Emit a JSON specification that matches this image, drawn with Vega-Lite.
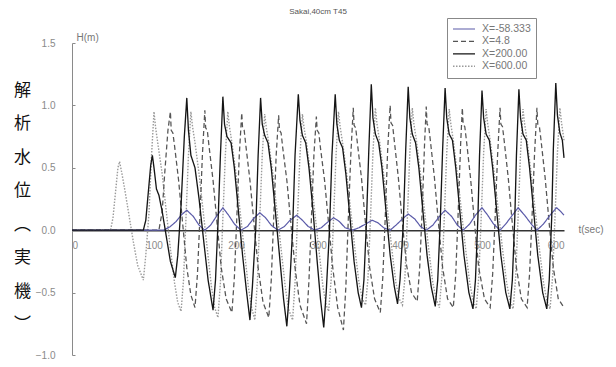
{
  "$schema": "https://vega.github.io/schema/vega-lite/v6.json",
  "autosize": "none",
  "width": 492,
  "height": 312,
  "padding": {"left": 72, "top": 43, "right": 52, "bottom": 12},
  "background": "white",
  "title": {"text": "Sakai,40cm T45", "fontSize": 8, "fontWeight": "normal", "color": "#555555", "font": "Liberation Sans", "anchor": "middle", "baseline": "bottom", "offset": 4, "dy": 10},
  "data": {"values": [
    {"s":"X=200.00","t":0,"h":0},{"s":"X=200.00","t":87,"h":0},{"s":"X=200.00","t":90,"h":0.08},{"s":"X=200.00","t":93,"h":0.3},{"s":"X=200.00","t":96,"h":0.52},{"s":"X=200.00","t":98,"h":0.6},{"s":"X=200.00","t":100,"h":0.5},{"s":"X=200.00","t":103,"h":0.33},{"s":"X=200.00","t":106,"h":0.28},{"s":"X=200.00","t":110,"h":0.15},{"s":"X=200.00","t":115,"h":-0.05},{"s":"X=200.00","t":120,"h":-0.25},{"s":"X=200.00","t":126,"h":-0.38},
    {"s":"X=200.00","t":129,"h":-0.2},{"s":"X=200.00","t":133,"h":0.2},{"s":"X=200.00","t":137,"h":0.75},{"s":"X=200.00","t":140,"h":1.06},{"s":"X=200.00","t":142,"h":0.8},{"s":"X=200.00","t":145,"h":0.6},{"s":"X=200.00","t":150,"h":0.5},{"s":"X=200.00","t":155,"h":0.25},{"s":"X=200.00","t":160,"h":-0.05},{"s":"X=200.00","t":166,"h":-0.4},{"s":"X=200.00","t":172,"h":-0.64},
    {"s":"X=200.00","t":175,"h":-0.4},{"s":"X=200.00","t":178,"h":0.05},{"s":"X=200.00","t":181,"h":0.6},{"s":"X=200.00","t":184,"h":1.07},{"s":"X=200.00","t":186,"h":0.85},{"s":"X=200.00","t":189,"h":0.75},{"s":"X=200.00","t":194,"h":0.7},{"s":"X=200.00","t":198,"h":0.5},{"s":"X=200.00","t":203,"h":0.15},{"s":"X=200.00","t":208,"h":-0.2},{"s":"X=200.00","t":213,"h":-0.5},{"s":"X=200.00","t":217,"h":-0.72},
    {"s":"X=200.00","t":220,"h":-0.45},{"s":"X=200.00","t":224,"h":0.0},{"s":"X=200.00","t":227,"h":0.6},{"s":"X=200.00","t":230,"h":1.06},{"s":"X=200.00","t":232,"h":0.85},{"s":"X=200.00","t":235,"h":0.76},{"s":"X=200.00","t":239,"h":0.7},{"s":"X=200.00","t":243,"h":0.5},{"s":"X=200.00","t":248,"h":0.15},{"s":"X=200.00","t":253,"h":-0.2},{"s":"X=200.00","t":258,"h":-0.55},{"s":"X=200.00","t":262,"h":-0.77},
    {"s":"X=200.00","t":265,"h":-0.5},{"s":"X=200.00","t":269,"h":0.0},{"s":"X=200.00","t":272,"h":0.6},{"s":"X=200.00","t":276,"h":1.09},{"s":"X=200.00","t":278,"h":0.88},{"s":"X=200.00","t":281,"h":0.76},{"s":"X=200.00","t":285,"h":0.7},{"s":"X=200.00","t":289,"h":0.5},{"s":"X=200.00","t":294,"h":0.15},{"s":"X=200.00","t":299,"h":-0.25},{"s":"X=200.00","t":303,"h":-0.55},{"s":"X=200.00","t":307,"h":-0.78},
    {"s":"X=200.00","t":310,"h":-0.5},{"s":"X=200.00","t":314,"h":0.0},{"s":"X=200.00","t":317,"h":0.6},{"s":"X=200.00","t":321,"h":1.09},{"s":"X=200.00","t":323,"h":0.85},{"s":"X=200.00","t":326,"h":0.72},{"s":"X=200.00","t":330,"h":0.66},{"s":"X=200.00","t":334,"h":0.45},{"s":"X=200.00","t":339,"h":0.1},{"s":"X=200.00","t":344,"h":-0.25},{"s":"X=200.00","t":349,"h":-0.5},{"s":"X=200.00","t":353,"h":-0.62},
    {"s":"X=200.00","t":356,"h":-0.4},{"s":"X=200.00","t":359,"h":0.05},{"s":"X=200.00","t":362,"h":0.65},{"s":"X=200.00","t":365,"h":1.17},{"s":"X=200.00","t":367,"h":0.9},{"s":"X=200.00","t":370,"h":0.77},{"s":"X=200.00","t":374,"h":0.7},{"s":"X=200.00","t":378,"h":0.5},{"s":"X=200.00","t":383,"h":0.15},{"s":"X=200.00","t":388,"h":-0.2},{"s":"X=200.00","t":393,"h":-0.45},{"s":"X=200.00","t":397,"h":-0.59},
    {"s":"X=200.00","t":400,"h":-0.4},{"s":"X=200.00","t":404,"h":0.05},{"s":"X=200.00","t":407,"h":0.65},{"s":"X=200.00","t":410,"h":1.15},{"s":"X=200.00","t":412,"h":0.9},{"s":"X=200.00","t":415,"h":0.77},{"s":"X=200.00","t":419,"h":0.7},{"s":"X=200.00","t":423,"h":0.5},{"s":"X=200.00","t":428,"h":0.15},{"s":"X=200.00","t":433,"h":-0.2},{"s":"X=200.00","t":438,"h":-0.45},{"s":"X=200.00","t":443,"h":-0.61},
    {"s":"X=200.00","t":446,"h":-0.4},{"s":"X=200.00","t":449,"h":0.05},{"s":"X=200.00","t":452,"h":0.65},{"s":"X=200.00","t":455,"h":1.14},{"s":"X=200.00","t":457,"h":0.9},{"s":"X=200.00","t":460,"h":0.77},{"s":"X=200.00","t":464,"h":0.72},{"s":"X=200.00","t":468,"h":0.5},{"s":"X=200.00","t":473,"h":0.15},{"s":"X=200.00","t":478,"h":-0.2},{"s":"X=200.00","t":484,"h":-0.5},{"s":"X=200.00","t":489,"h":-0.63},
    {"s":"X=200.00","t":492,"h":-0.4},{"s":"X=200.00","t":495,"h":0.1},{"s":"X=200.00","t":497,"h":0.6},{"s":"X=200.00","t":500,"h":1.12},{"s":"X=200.00","t":502,"h":0.9},{"s":"X=200.00","t":505,"h":0.77},{"s":"X=200.00","t":509,"h":0.72},{"s":"X=200.00","t":513,"h":0.5},{"s":"X=200.00","t":518,"h":0.15},{"s":"X=200.00","t":523,"h":-0.2},{"s":"X=200.00","t":529,"h":-0.5},{"s":"X=200.00","t":534,"h":-0.63},
    {"s":"X=200.00","t":537,"h":-0.4},{"s":"X=200.00","t":540,"h":0.1},{"s":"X=200.00","t":542,"h":0.6},{"s":"X=200.00","t":545,"h":1.13},{"s":"X=200.00","t":547,"h":0.9},{"s":"X=200.00","t":550,"h":0.77},{"s":"X=200.00","t":554,"h":0.72},{"s":"X=200.00","t":558,"h":0.5},{"s":"X=200.00","t":563,"h":0.15},{"s":"X=200.00","t":568,"h":-0.2},{"s":"X=200.00","t":574,"h":-0.5},{"s":"X=200.00","t":579,"h":-0.63},
    {"s":"X=200.00","t":582,"h":-0.4},{"s":"X=200.00","t":585,"h":0.1},{"s":"X=200.00","t":587,"h":0.65},{"s":"X=200.00","t":590,"h":1.18},{"s":"X=200.00","t":592,"h":0.92},{"s":"X=200.00","t":595,"h":0.78},{"s":"X=200.00","t":598,"h":0.72},{"s":"X=200.00","t":600,"h":0.58},

    {"s":"X=4.8","t":0,"h":0},{"s":"X=4.8","t":106,"h":0},{"s":"X=4.8","t":110,"h":0.15},{"s":"X=4.8","t":113,"h":0.45},{"s":"X=4.8","t":117,"h":0.8},{"s":"X=4.8","t":120,"h":0.95},{"s":"X=4.8","t":121,"h":0.8},{"s":"X=4.8","t":123,"h":0.78},{"s":"X=4.8","t":125,"h":0.68},{"s":"X=4.8","t":130,"h":0.4},{"s":"X=4.8","t":135,"h":0.05},{"s":"X=4.8","t":140,"h":-0.3},{"s":"X=4.8","t":145,"h":-0.52},{"s":"X=4.8","t":150,"h":-0.62},
    {"s":"X=4.8","t":153,"h":-0.35},{"s":"X=4.8","t":156,"h":0.1},{"s":"X=4.8","t":159,"h":0.6},{"s":"X=4.8","t":162,"h":0.96},{"s":"X=4.8","t":163,"h":0.82},{"s":"X=4.8","t":165,"h":0.8},{"s":"X=4.8","t":167,"h":0.68},{"s":"X=4.8","t":172,"h":0.4},{"s":"X=4.8","t":177,"h":0.05},{"s":"X=4.8","t":182,"h":-0.3},{"s":"X=4.8","t":188,"h":-0.55},{"s":"X=4.8","t":195,"h":-0.66},
    {"s":"X=4.8","t":198,"h":-0.38},{"s":"X=4.8","t":201,"h":0.1},{"s":"X=4.8","t":204,"h":0.6},{"s":"X=4.8","t":207,"h":0.94},{"s":"X=4.8","t":208,"h":0.82},{"s":"X=4.8","t":210,"h":0.8},{"s":"X=4.8","t":212,"h":0.68},{"s":"X=4.8","t":217,"h":0.4},{"s":"X=4.8","t":222,"h":0.05},{"s":"X=4.8","t":227,"h":-0.3},{"s":"X=4.8","t":233,"h":-0.58},{"s":"X=4.8","t":240,"h":-0.7},
    {"s":"X=4.8","t":243,"h":-0.4},{"s":"X=4.8","t":246,"h":0.1},{"s":"X=4.8","t":249,"h":0.6},{"s":"X=4.8","t":252,"h":0.92},{"s":"X=4.8","t":253,"h":0.8},{"s":"X=4.8","t":255,"h":0.78},{"s":"X=4.8","t":257,"h":0.66},{"s":"X=4.8","t":262,"h":0.4},{"s":"X=4.8","t":267,"h":0.05},{"s":"X=4.8","t":272,"h":-0.3},{"s":"X=4.8","t":278,"h":-0.6},{"s":"X=4.8","t":286,"h":-0.75},
    {"s":"X=4.8","t":289,"h":-0.4},{"s":"X=4.8","t":292,"h":0.1},{"s":"X=4.8","t":295,"h":0.6},{"s":"X=4.8","t":298,"h":0.91},{"s":"X=4.8","t":299,"h":0.8},{"s":"X=4.8","t":301,"h":0.78},{"s":"X=4.8","t":303,"h":0.66},{"s":"X=4.8","t":308,"h":0.4},{"s":"X=4.8","t":313,"h":0.05},{"s":"X=4.8","t":318,"h":-0.3},{"s":"X=4.8","t":324,"h":-0.62},{"s":"X=4.8","t":331,"h":-0.8},
    {"s":"X=4.8","t":334,"h":-0.45},{"s":"X=4.8","t":337,"h":0.1},{"s":"X=4.8","t":340,"h":0.6},{"s":"X=4.8","t":343,"h":0.98},{"s":"X=4.8","t":344,"h":0.84},{"s":"X=4.8","t":346,"h":0.82},{"s":"X=4.8","t":348,"h":0.7},{"s":"X=4.8","t":353,"h":0.42},{"s":"X=4.8","t":358,"h":0.05},{"s":"X=4.8","t":363,"h":-0.3},{"s":"X=4.8","t":369,"h":-0.55},{"s":"X=4.8","t":376,"h":-0.66},
    {"s":"X=4.8","t":379,"h":-0.38},{"s":"X=4.8","t":382,"h":0.1},{"s":"X=4.8","t":385,"h":0.65},{"s":"X=4.8","t":388,"h":1.0},{"s":"X=4.8","t":389,"h":0.86},{"s":"X=4.8","t":391,"h":0.84},{"s":"X=4.8","t":393,"h":0.72},{"s":"X=4.8","t":398,"h":0.42},{"s":"X=4.8","t":403,"h":0.05},{"s":"X=4.8","t":408,"h":-0.28},{"s":"X=4.8","t":414,"h":-0.5},{"s":"X=4.8","t":421,"h":-0.57},
    {"s":"X=4.8","t":424,"h":-0.3},{"s":"X=4.8","t":427,"h":0.15},{"s":"X=4.8","t":430,"h":0.7},{"s":"X=4.8","t":432,"h":0.99},{"s":"X=4.8","t":433,"h":0.85},{"s":"X=4.8","t":435,"h":0.83},{"s":"X=4.8","t":437,"h":0.72},{"s":"X=4.8","t":442,"h":0.42},{"s":"X=4.8","t":447,"h":0.05},{"s":"X=4.8","t":452,"h":-0.3},{"s":"X=4.8","t":458,"h":-0.55},{"s":"X=4.8","t":465,"h":-0.62},
    {"s":"X=4.8","t":468,"h":-0.35},{"s":"X=4.8","t":471,"h":0.15},{"s":"X=4.8","t":474,"h":0.7},{"s":"X=4.8","t":476,"h":0.98},{"s":"X=4.8","t":477,"h":0.85},{"s":"X=4.8","t":479,"h":0.83},{"s":"X=4.8","t":481,"h":0.72},{"s":"X=4.8","t":486,"h":0.42},{"s":"X=4.8","t":491,"h":0.05},{"s":"X=4.8","t":496,"h":-0.3},{"s":"X=4.8","t":503,"h":-0.55},{"s":"X=4.8","t":510,"h":-0.62},
    {"s":"X=4.8","t":513,"h":-0.35},{"s":"X=4.8","t":516,"h":0.1},{"s":"X=4.8","t":519,"h":0.6},{"s":"X=4.8","t":522,"h":0.98},{"s":"X=4.8","t":523,"h":0.85},{"s":"X=4.8","t":525,"h":0.83},{"s":"X=4.8","t":527,"h":0.72},{"s":"X=4.8","t":532,"h":0.42},{"s":"X=4.8","t":537,"h":0.05},{"s":"X=4.8","t":542,"h":-0.3},{"s":"X=4.8","t":548,"h":-0.55},{"s":"X=4.8","t":555,"h":-0.62},
    {"s":"X=4.8","t":558,"h":-0.35},{"s":"X=4.8","t":561,"h":0.1},{"s":"X=4.8","t":564,"h":0.6},{"s":"X=4.8","t":567,"h":0.98},{"s":"X=4.8","t":568,"h":0.85},{"s":"X=4.8","t":570,"h":0.83},{"s":"X=4.8","t":572,"h":0.72},{"s":"X=4.8","t":577,"h":0.42},{"s":"X=4.8","t":582,"h":0.05},{"s":"X=4.8","t":587,"h":-0.3},{"s":"X=4.8","t":593,"h":-0.55},{"s":"X=4.8","t":600,"h":-0.62},

    {"s":"X=600.00","t":0,"h":0},{"s":"X=600.00","t":47,"h":0},{"s":"X=600.00","t":50,"h":0.1},{"s":"X=600.00","t":53,"h":0.3},{"s":"X=600.00","t":56,"h":0.5},{"s":"X=600.00","t":58,"h":0.55},{"s":"X=600.00","t":61,"h":0.45},{"s":"X=600.00","t":65,"h":0.3},{"s":"X=600.00","t":70,"h":0.1},{"s":"X=600.00","t":75,"h":-0.1},{"s":"X=600.00","t":80,"h":-0.28},{"s":"X=600.00","t":87,"h":-0.4},
    {"s":"X=600.00","t":90,"h":-0.2},{"s":"X=600.00","t":94,"h":0.15},{"s":"X=600.00","t":97,"h":0.6},{"s":"X=600.00","t":100,"h":0.95},{"s":"X=600.00","t":102,"h":0.82},{"s":"X=600.00","t":105,"h":0.68},{"s":"X=600.00","t":110,"h":0.45},{"s":"X=600.00","t":115,"h":0.15},{"s":"X=600.00","t":120,"h":-0.15},{"s":"X=600.00","t":125,"h":-0.42},{"s":"X=600.00","t":129,"h":-0.58},{"s":"X=600.00","t":133,"h":-0.65},
    {"s":"X=600.00","t":136,"h":-0.4},{"s":"X=600.00","t":139,"h":0.1},{"s":"X=600.00","t":142,"h":0.6},{"s":"X=600.00","t":145,"h":0.95},{"s":"X=600.00","t":147,"h":0.83},{"s":"X=600.00","t":150,"h":0.7},{"s":"X=600.00","t":155,"h":0.45},{"s":"X=600.00","t":160,"h":0.15},{"s":"X=600.00","t":165,"h":-0.15},{"s":"X=600.00","t":170,"h":-0.45},{"s":"X=600.00","t":174,"h":-0.62},{"s":"X=600.00","t":178,"h":-0.7},
    {"s":"X=600.00","t":181,"h":-0.42},{"s":"X=600.00","t":184,"h":0.1},{"s":"X=600.00","t":187,"h":0.6},{"s":"X=600.00","t":190,"h":0.95},{"s":"X=600.00","t":192,"h":0.83},{"s":"X=600.00","t":195,"h":0.7},{"s":"X=600.00","t":200,"h":0.45},{"s":"X=600.00","t":205,"h":0.15},{"s":"X=600.00","t":210,"h":-0.15},{"s":"X=600.00","t":215,"h":-0.45},{"s":"X=600.00","t":219,"h":-0.62},{"s":"X=600.00","t":223,"h":-0.72},
    {"s":"X=600.00","t":226,"h":-0.42},{"s":"X=600.00","t":229,"h":0.1},{"s":"X=600.00","t":232,"h":0.6},{"s":"X=600.00","t":235,"h":0.93},{"s":"X=600.00","t":237,"h":0.82},{"s":"X=600.00","t":240,"h":0.7},{"s":"X=600.00","t":245,"h":0.45},{"s":"X=600.00","t":250,"h":0.15},{"s":"X=600.00","t":255,"h":-0.15},{"s":"X=600.00","t":260,"h":-0.45},{"s":"X=600.00","t":264,"h":-0.63},{"s":"X=600.00","t":269,"h":-0.72},
    {"s":"X=600.00","t":272,"h":-0.42},{"s":"X=600.00","t":275,"h":0.1},{"s":"X=600.00","t":278,"h":0.6},{"s":"X=600.00","t":281,"h":0.93},{"s":"X=600.00","t":283,"h":0.82},{"s":"X=600.00","t":286,"h":0.7},{"s":"X=600.00","t":291,"h":0.45},{"s":"X=600.00","t":296,"h":0.15},{"s":"X=600.00","t":301,"h":-0.15},{"s":"X=600.00","t":306,"h":-0.45},{"s":"X=600.00","t":310,"h":-0.6},{"s":"X=600.00","t":313,"h":-0.65},
    {"s":"X=600.00","t":316,"h":-0.4},{"s":"X=600.00","t":319,"h":0.1},{"s":"X=600.00","t":322,"h":0.6},{"s":"X=600.00","t":325,"h":0.95},{"s":"X=600.00","t":327,"h":0.83},{"s":"X=600.00","t":330,"h":0.7},{"s":"X=600.00","t":335,"h":0.45},{"s":"X=600.00","t":340,"h":0.15},{"s":"X=600.00","t":345,"h":-0.15},{"s":"X=600.00","t":350,"h":-0.42},{"s":"X=600.00","t":354,"h":-0.55},{"s":"X=600.00","t":358,"h":-0.6},
    {"s":"X=600.00","t":361,"h":-0.38},{"s":"X=600.00","t":364,"h":0.1},{"s":"X=600.00","t":367,"h":0.62},{"s":"X=600.00","t":370,"h":0.98},{"s":"X=600.00","t":372,"h":0.85},{"s":"X=600.00","t":375,"h":0.72},{"s":"X=600.00","t":380,"h":0.45},{"s":"X=600.00","t":385,"h":0.15},{"s":"X=600.00","t":390,"h":-0.15},{"s":"X=600.00","t":395,"h":-0.42},{"s":"X=600.00","t":399,"h":-0.55},{"s":"X=600.00","t":403,"h":-0.6},
    {"s":"X=600.00","t":406,"h":-0.38},{"s":"X=600.00","t":409,"h":0.1},{"s":"X=600.00","t":412,"h":0.62},{"s":"X=600.00","t":415,"h":0.98},{"s":"X=600.00","t":417,"h":0.85},{"s":"X=600.00","t":420,"h":0.72},{"s":"X=600.00","t":425,"h":0.45},{"s":"X=600.00","t":430,"h":0.15},{"s":"X=600.00","t":435,"h":-0.15},{"s":"X=600.00","t":440,"h":-0.42},{"s":"X=600.00","t":444,"h":-0.55},{"s":"X=600.00","t":448,"h":-0.62},
    {"s":"X=600.00","t":451,"h":-0.38},{"s":"X=600.00","t":454,"h":0.1},{"s":"X=600.00","t":457,"h":0.62},{"s":"X=600.00","t":460,"h":0.97},{"s":"X=600.00","t":462,"h":0.85},{"s":"X=600.00","t":465,"h":0.72},{"s":"X=600.00","t":470,"h":0.45},{"s":"X=600.00","t":475,"h":0.15},{"s":"X=600.00","t":480,"h":-0.15},{"s":"X=600.00","t":485,"h":-0.42},{"s":"X=600.00","t":489,"h":-0.56},{"s":"X=600.00","t":493,"h":-0.63},
    {"s":"X=600.00","t":496,"h":-0.38},{"s":"X=600.00","t":499,"h":0.1},{"s":"X=600.00","t":502,"h":0.62},{"s":"X=600.00","t":505,"h":0.97},{"s":"X=600.00","t":507,"h":0.85},{"s":"X=600.00","t":510,"h":0.72},{"s":"X=600.00","t":515,"h":0.45},{"s":"X=600.00","t":520,"h":0.15},{"s":"X=600.00","t":525,"h":-0.15},{"s":"X=600.00","t":530,"h":-0.42},{"s":"X=600.00","t":534,"h":-0.56},{"s":"X=600.00","t":538,"h":-0.63},
    {"s":"X=600.00","t":541,"h":-0.38},{"s":"X=600.00","t":544,"h":0.1},{"s":"X=600.00","t":547,"h":0.62},{"s":"X=600.00","t":550,"h":0.97},{"s":"X=600.00","t":552,"h":0.85},{"s":"X=600.00","t":555,"h":0.72},{"s":"X=600.00","t":560,"h":0.45},{"s":"X=600.00","t":565,"h":0.15},{"s":"X=600.00","t":570,"h":-0.15},{"s":"X=600.00","t":575,"h":-0.42},{"s":"X=600.00","t":579,"h":-0.56},{"s":"X=600.00","t":583,"h":-0.63},
    {"s":"X=600.00","t":586,"h":-0.38},{"s":"X=600.00","t":589,"h":0.1},{"s":"X=600.00","t":592,"h":0.62},{"s":"X=600.00","t":595,"h":0.98},{"s":"X=600.00","t":597,"h":0.86},{"s":"X=600.00","t":600,"h":0.72},

    {"s":"X=-58.333","t":0,"h":0},{"s":"X=-58.333","t":112,"h":0},{"s":"X=-58.333","t":120,"h":0.03},{"s":"X=-58.333","t":127,"h":0.07},{"s":"X=-58.333","t":133,"h":0.12},{"s":"X=-58.333","t":140,"h":0.16},{"s":"X=-58.333","t":148,"h":0.11},{"s":"X=-58.333","t":155,"h":0.04},{"s":"X=-58.333","t":162,"h":0.0},
    {"s":"X=-58.333","t":169,"h":0.04},{"s":"X=-58.333","t":176,"h":0.11},{"s":"X=-58.333","t":184,"h":0.18},{"s":"X=-58.333","t":191,"h":0.12},{"s":"X=-58.333","t":198,"h":0.05},{"s":"X=-58.333","t":206,"h":0.0},
    {"s":"X=-58.333","t":214,"h":0.03},{"s":"X=-58.333","t":221,"h":0.09},{"s":"X=-58.333","t":229,"h":0.14},{"s":"X=-58.333","t":236,"h":0.1},{"s":"X=-58.333","t":243,"h":0.04},{"s":"X=-58.333","t":251,"h":0.0},
    {"s":"X=-58.333","t":259,"h":0.03},{"s":"X=-58.333","t":266,"h":0.08},{"s":"X=-58.333","t":274,"h":0.12},{"s":"X=-58.333","t":281,"h":0.08},{"s":"X=-58.333","t":288,"h":0.03},{"s":"X=-58.333","t":296,"h":0.0},
    {"s":"X=-58.333","t":304,"h":0.02},{"s":"X=-58.333","t":311,"h":0.06},{"s":"X=-58.333","t":319,"h":0.1},{"s":"X=-58.333","t":326,"h":0.07},{"s":"X=-58.333","t":333,"h":0.02},{"s":"X=-58.333","t":342,"h":0.0},
    {"s":"X=-58.333","t":350,"h":0.02},{"s":"X=-58.333","t":358,"h":0.05},{"s":"X=-58.333","t":366,"h":0.08},{"s":"X=-58.333","t":373,"h":0.06},{"s":"X=-58.333","t":380,"h":0.02},{"s":"X=-58.333","t":388,"h":0.0},
    {"s":"X=-58.333","t":395,"h":0.04},{"s":"X=-58.333","t":403,"h":0.09},{"s":"X=-58.333","t":410,"h":0.13},{"s":"X=-58.333","t":418,"h":0.09},{"s":"X=-58.333","t":425,"h":0.03},{"s":"X=-58.333","t":432,"h":0.0},
    {"s":"X=-58.333","t":440,"h":0.04},{"s":"X=-58.333","t":448,"h":0.11},{"s":"X=-58.333","t":455,"h":0.16},{"s":"X=-58.333","t":463,"h":0.11},{"s":"X=-58.333","t":470,"h":0.04},{"s":"X=-58.333","t":477,"h":0.0},
    {"s":"X=-58.333","t":485,"h":0.05},{"s":"X=-58.333","t":492,"h":0.12},{"s":"X=-58.333","t":500,"h":0.18},{"s":"X=-58.333","t":507,"h":0.12},{"s":"X=-58.333","t":514,"h":0.05},{"s":"X=-58.333","t":522,"h":0.0},
    {"s":"X=-58.333","t":529,"h":0.05},{"s":"X=-58.333","t":537,"h":0.12},{"s":"X=-58.333","t":544,"h":0.18},{"s":"X=-58.333","t":552,"h":0.12},{"s":"X=-58.333","t":560,"h":0.05},{"s":"X=-58.333","t":567,"h":0.0},
    {"s":"X=-58.333","t":575,"h":0.05},{"s":"X=-58.333","t":583,"h":0.12},{"s":"X=-58.333","t":591,"h":0.18},{"s":"X=-58.333","t":596,"h":0.15},{"s":"X=-58.333","t":600,"h":0.12}
  ]},
  "layer": [
    {
      "transform": [{"filter": "datum.s === 'X=600.00'"}],
      "mark": {"type": "line", "interpolate": "linear"},
      "encoding": {
        "x": {"field": "t", "type": "quantitative", "scale": {"domain": [0, 600], "nice": false}, "axis": {"values": [0, 100, 200, 300, 400, 500, 600], "offset": -124.8, "domain": true, "domainColor": "#333333", "domainWidth": 1.5, "ticks": false, "grid": false, "labelPadding": 10, "labelFontSize": 10, "labelColor": "#8a8a8a", "labelFont": "Liberation Sans", "title": "t(sec)", "titleFont": "Liberation Sans", "titleFontSize": 10, "titleFontWeight": "normal", "titleColor": "#777777", "titleX": 506, "titleY": -1, "titleAlign": "left", "titleBaseline": "middle", "titleAngle": 0}},
        "y": {"field": "h", "type": "quantitative", "scale": {"domain": [-1, 1.5], "nice": false, "zero": false}, "axis": {"values": [-1, -0.5, 0, 0.5, 1, 1.5], "format": ".1f", "domain": true, "domainColor": "#8a8a8a", "domainWidth": 1, "ticks": true, "tickSize": -3, "tickColor": "#8a8a8a", "grid": false, "labelPadding": 20, "labelFontSize": 10, "labelColor": "#8a8a8a", "labelFont": "Liberation Sans", "title": "H(m)", "titleFont": "Liberation Sans", "titleFontSize": 10, "titleFontWeight": "normal", "titleColor": "#777777", "titleAngle": 0, "titleAlign": "left", "titleBaseline": "middle", "titleX": 4, "titleY": -6}},
        "color": {"field": "s", "type": "nominal", "title": null, "scale": {"domain": ["X=-58.333", "X=4.8", "X=200.00", "X=600.00"], "range": ["#5a5aa8", "#555555", "#151515", "#9a9a9a"]}},
        "strokeDash": {"field": "s", "type": "nominal", "title": null, "scale": {"domain": ["X=-58.333", "X=4.8", "X=200.00", "X=600.00"], "range": [[1, 0], [5, 3], [1, 0], [1.5, 1.5]]}},
        "strokeWidth": {"field": "s", "type": "nominal", "title": null, "scale": {"domain": ["X=-58.333", "X=4.8", "X=200.00", "X=600.00"], "range": [1.2, 1.4, 2.0, 1.4]}}
      }
    },
    {
      "transform": [{"filter": "datum.s === 'X=4.8'"}],
      "mark": {"type": "line", "interpolate": "linear"},
      "encoding": {
        "x": {"field": "t", "type": "quantitative"},
        "y": {"field": "h", "type": "quantitative", "axis": {"orient": "left", "domain": false, "ticks": false, "labels": false, "grid": false, "title": ["解", "析", "水", "位", "︵", "実", "機", "︶"], "titleFont": "Noto Sans CJK JP", "titleFontSize": 17, "titleFontWeight": "normal", "titleColor": "#111111", "titleAngle": 0, "titleAlign": "center", "titleBaseline": "top", "titleLineHeight": 33.5, "titleX": -50, "titleY": 39}},
        "color": {"field": "s", "type": "nominal", "title": null},
        "strokeDash": {"field": "s", "type": "nominal", "title": null},
        "strokeWidth": {"field": "s", "type": "nominal", "title": null}
      }
    },
    {
      "transform": [{"filter": "datum.s === 'X=-58.333'"}],
      "mark": {"type": "line", "interpolate": "linear"},
      "encoding": {
        "x": {"field": "t", "type": "quantitative"},
        "y": {"field": "h", "type": "quantitative", "axis": null},
        "color": {"field": "s", "type": "nominal", "title": null},
        "strokeDash": {"field": "s", "type": "nominal", "title": null},
        "strokeWidth": {"field": "s", "type": "nominal", "title": null}
      }
    },
    {
      "transform": [{"filter": "datum.s === 'X=200.00'"}],
      "mark": {"type": "line", "interpolate": "linear"},
      "encoding": {
        "x": {"field": "t", "type": "quantitative"},
        "y": {"field": "h", "type": "quantitative", "axis": null},
        "color": {"field": "s", "type": "nominal", "title": null},
        "strokeDash": {"field": "s", "type": "nominal", "title": null},
        "strokeWidth": {"field": "s", "type": "nominal", "title": null}
      }
    }
  ],
  "resolve": {"axis": {"y": "independent"}},
  "config": {
    "view": {"stroke": null},
    "legend": {"orient": "none", "legendX": 375, "legendY": -25, "strokeColor": "#888888", "fillColor": "white", "padding": 5, "labelFont": "Liberation Sans", "labelFontSize": 10.5, "labelColor": "#777777", "symbolType": "stroke", "symbolSize": 484, "clipHeight": 12, "rowPadding": 0.4, "labelOffset": 6}
  }
}
